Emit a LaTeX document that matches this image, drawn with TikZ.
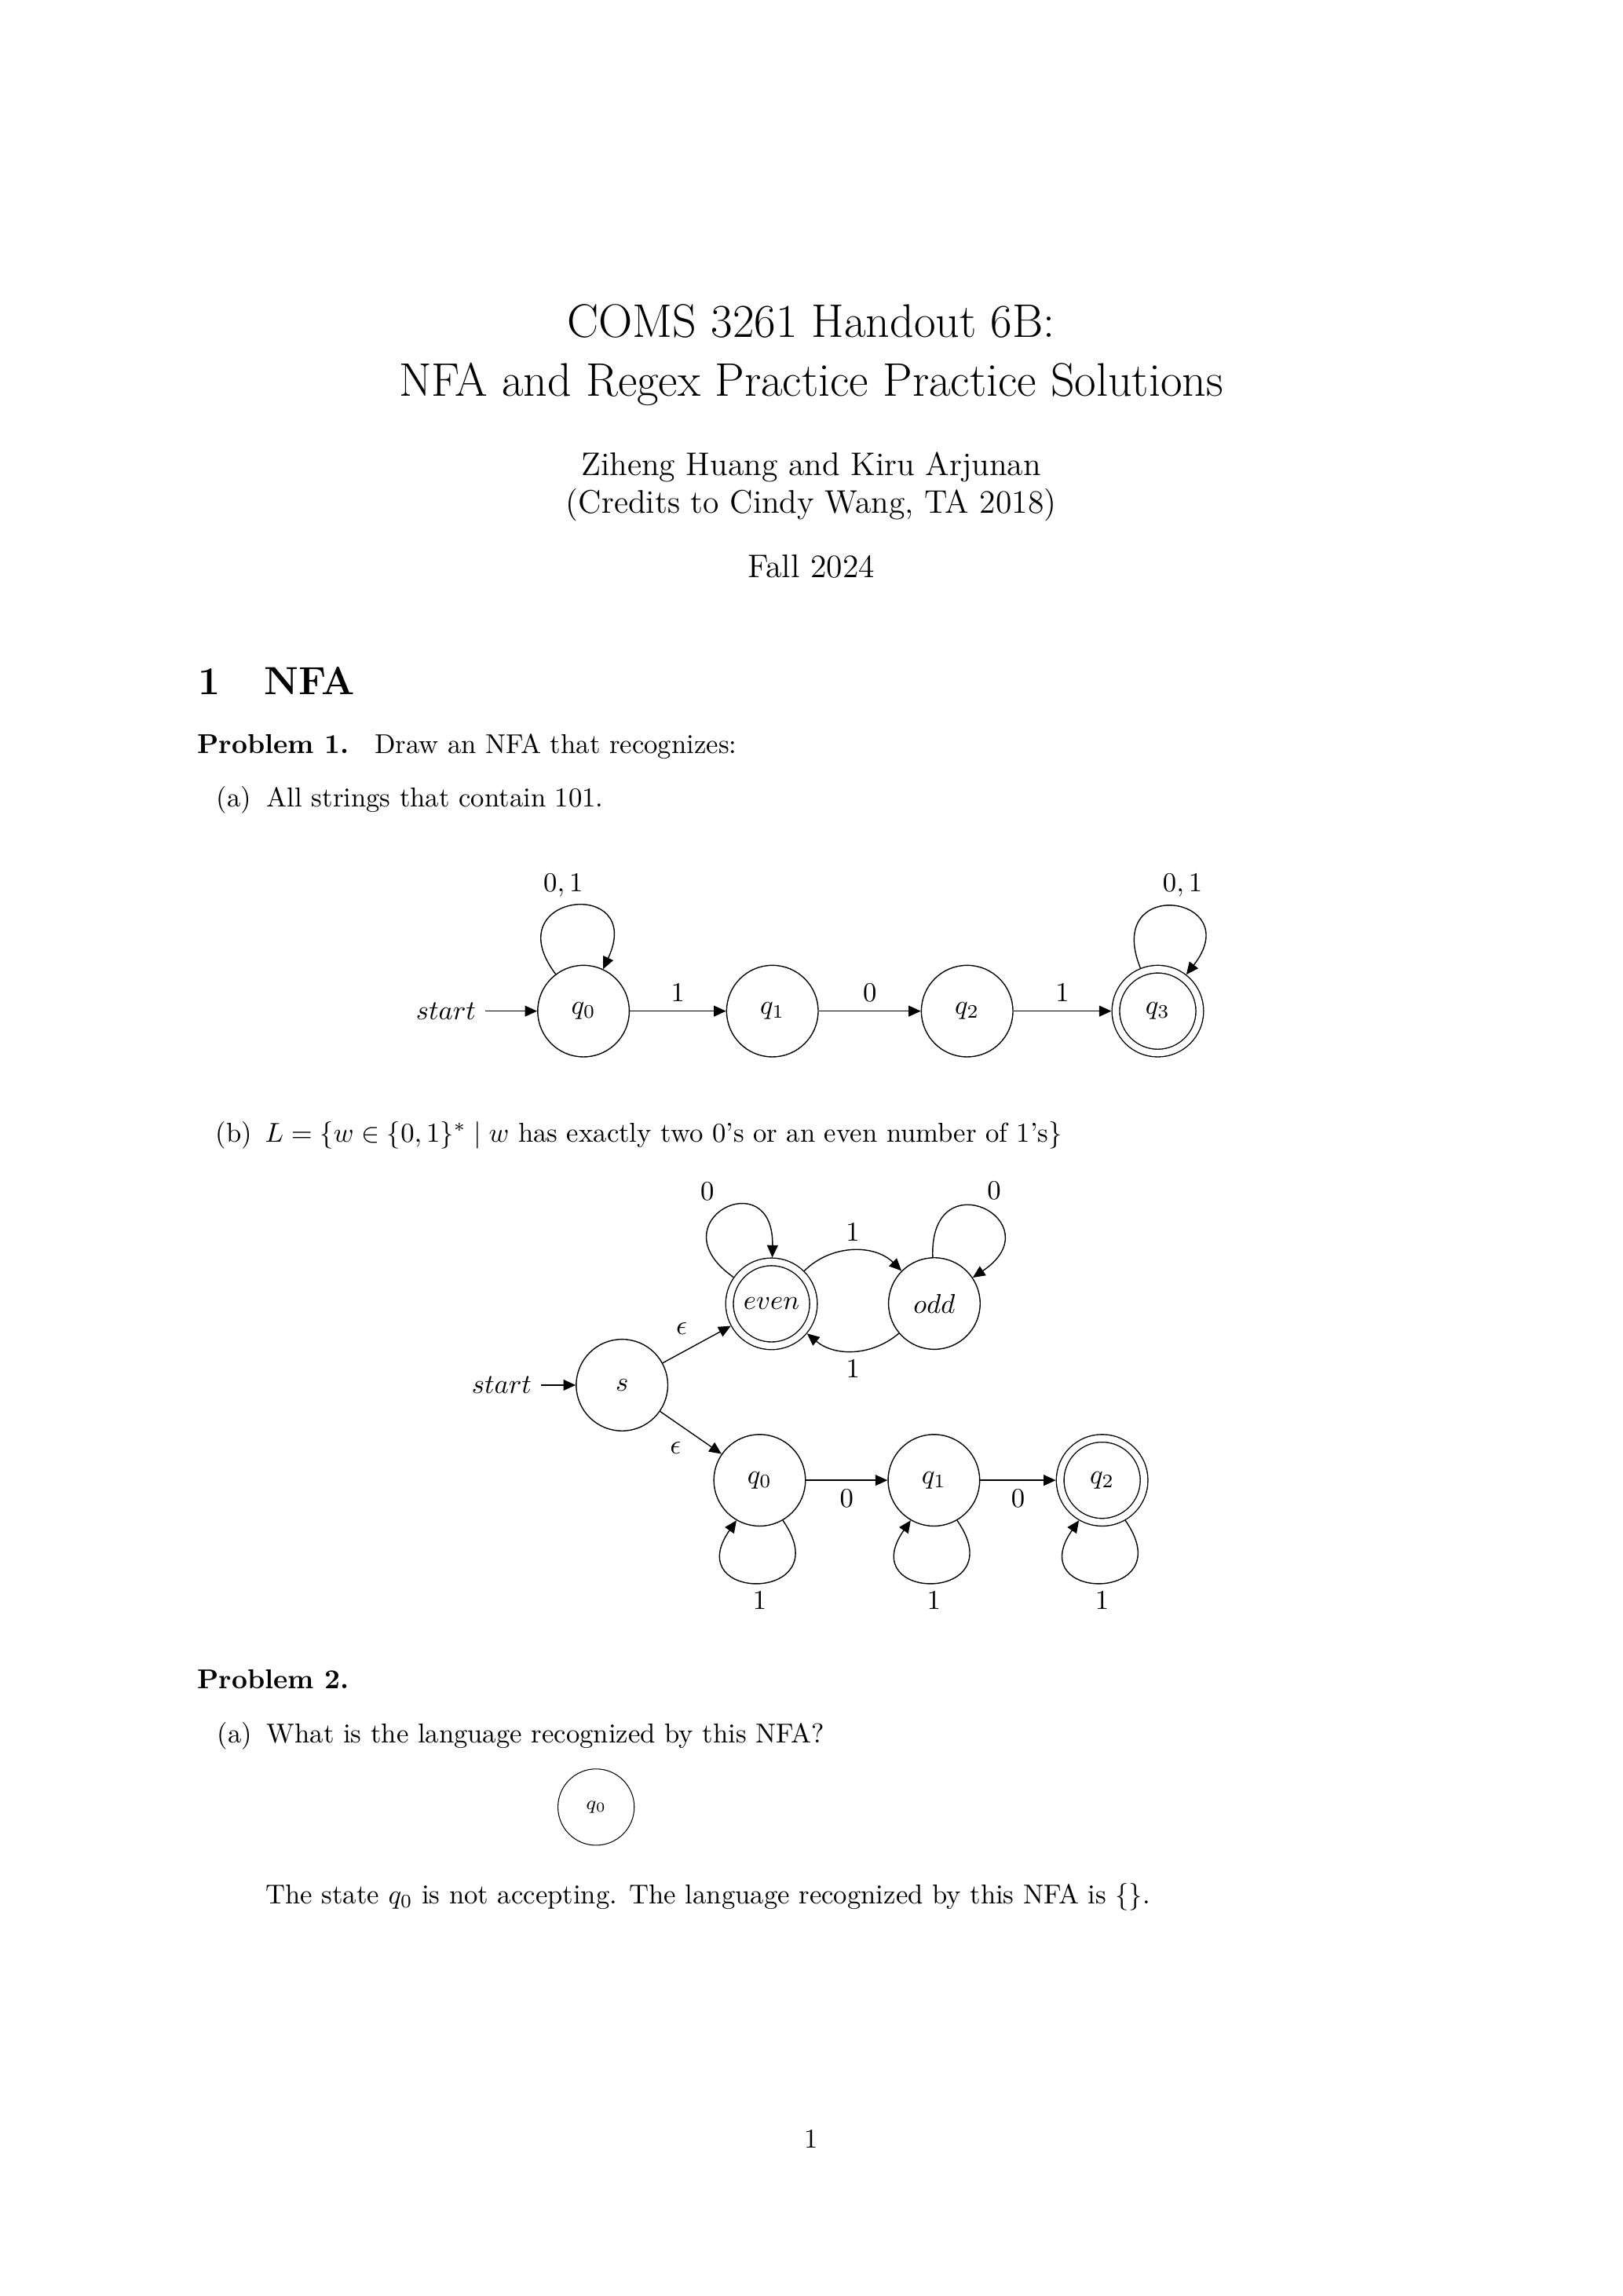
\documentclass[tikz,border=0pt]{standalone}
\usetikzlibrary{arrows.meta}
\begin{document}
\begin{tikzpicture}[x=0.53726pt, y=0.53726pt,
  >={Triangle[length=4.5pt,width=4pt]},
  txt/.style={anchor=base west, inner sep=0pt, outer sep=0pt},
  ctxt/.style={anchor=base, inner sep=0pt, outer sep=0pt},
  st/.style={circle, draw, line width=0.4pt, minimum size=33.6pt, inner sep=1pt, outer sep=0.2pt},
  acc/.style={circle, draw, line width=0.4pt, double, double distance=2.4pt, minimum size=30.8pt, inner sep=1pt, outer sep=1.6pt},
  arr/.style={->, line width=0.4pt},
  initxt/.style={anchor=east, inner sep=3.33pt, outer sep=0pt}
]
\useasboundingbox (0,0) rectangle (1108,-1568);

% ---------- title block ----------
\node[ctxt, font=\LARGE] (t1) at (554,-230.5) {COMS 3261 Handout 6B:};
\node[ctxt, font=\LARGE] (t2) at (554,-270.7) {NFA and Regex Practice Practice Solutions};
\node[ctxt, font=\large] (au1) at (554,-324.8) {Ziheng Huang and Kiru Arjunan};
\node[ctxt, font=\large] (au2) at (554,-350.2) {(Credits to Cindy Wang, TA 2018)};
\node[ctxt, font=\large] (date) at (554,-394.4) {Fall 2024};

% ---------- section and problems ----------
\node[txt, font=\Large\bfseries] (secnum) at (135.5,-474.4) {1};
\node[txt, font=\Large\bfseries] (sectitle) at (180.5,-474.4) {NFA};
\node[txt, font=\bfseries] (p1) at (134.9,-514.3) {Problem 1.};
\node[txt] (p1t) at (255.9,-514.3) {Draw an NFA that recognizes:};
\node[txt] (p1a) at (148,-551.2) {(a)};
\node[txt] (p1at) at (182.3,-551.2) {All strings that contain 101.};
\node[txt] (p1b) at (147.4,-780) {(b)};
\node[txt] (p1bt) at (181,-780) {$L=\{w\in\{0,1\}^*\mid w$ has exactly two 0's or an even number of 1's$\}$};
\node[txt, font=\bfseries] (p2) at (134.9,-1153.4) {Problem 2.};
\node[txt] (p2a) at (148.3,-1190) {(a)};
\node[txt] (p2at) at (182.3,-1190) {What is the language recognized by this NFA?};
\node[txt] (ans) at (181.4,-1300) {The state $q_0$ is not accepting. The language recognized by this NFA is $\{\}$.};
\node[ctxt] (pg) at (554,-1467) {1};

% ---------- automaton (a) ----------
\node[st] (q0a) at (398.5,-690.5) {$q_0$};
\node[st] (q1a) at (527.5,-690.5) {$q_1$};
\node[st] (q2a) at (660.5,-690.5) {$q_2$};
\node[acc] (q3a) at (790.7,-690.5) {$q_3$};
\node[initxt] (starta) at (331.2,-690.5) {$start$};

\draw[arr] (starta) -- (q0a);
\draw[arr] (q0a) -- node[midway, above] {$1$} (q1a);
\draw[arr] (q1a) -- node[midway, above] {$0$} (q2a);
\draw[arr] (q2a) -- node[midway, above] {$1$} (q3a);
\draw[arr] (q0a.127) .. controls +(127:69.8) and +(65:69.8) .. (q0a.65)
  node[pos=0.5, above, xshift=-3.4pt] {$0,1$};
\draw[arr] (q3a.112) .. controls +(112:68.8) and +(52:68.8) .. (q3a.52)
  node[pos=0.5, above, xshift=3.7pt] {$0,1$};

% ---------- automaton (b) ----------
\node[st] (s) at (424.8,-945.9) {$s$};
\node[acc] (even) at (526.9,-890.4) {$even$};
\node[st] (odd) at (638.1,-890.2) {$odd$};
\node[st] (q0b) at (518.8,-1010.9) {$q_0$};
\node[st] (q1b) at (637.8,-1010.9) {$q_1$};
\node[acc] (q2b) at (752.7,-1010.9) {$q_2$};
\node[initxt] (startb) at (369.3,-945.9) {$start$};

\draw[arr] (startb) -- (s);
\draw[arr] (s) -- node[midway, above left] {$\epsilon$} (even);
\draw[arr] (s) -- node[midway, below left] {$\epsilon$} (q0b);
\draw[arr] (even) to[bend left=45] node[midway, above] {$1$} (odd);
\draw[arr] (odd) to[bend left=40] node[midway, below] {$1$} (even);
\draw[arr] (even.145) .. controls +(145:66.3) and +(89:66.3) .. (even.89)
  node[pos=0.5, above, xshift=-6pt] {$0$};
\draw[arr] (odd.92) .. controls +(92:68.2) and +(34:68.2) .. (odd.34)
  node[pos=0.5, above, xshift=4.3pt] {$0$};
\draw[arr] (q0b) -- node[midway, below] {$0$} (q1b);
\draw[arr] (q1b) -- node[midway, below] {$0$} (q2b);
\draw[arr] (q0b.300) .. controls +(305:69) and +(235:69) .. (q0b.240)
  node[pos=0.5, below] {$1$};
\draw[arr] (q1b.300) .. controls +(305:69) and +(235:69) .. (q1b.240)
  node[pos=0.5, below] {$1$};
\draw[arr] (q2b.300) .. controls +(305:69) and +(235:69) .. (q2b.240)
  node[pos=0.5, below] {$1$};

% ---------- problem 2 automaton ----------
\node[circle, draw, line width=0.3pt, minimum size=28pt, inner sep=0pt, font=\scriptsize] (p2q0) at (407.1,-1234.1) {$q_0$};
\end{tikzpicture}
\end{document}
